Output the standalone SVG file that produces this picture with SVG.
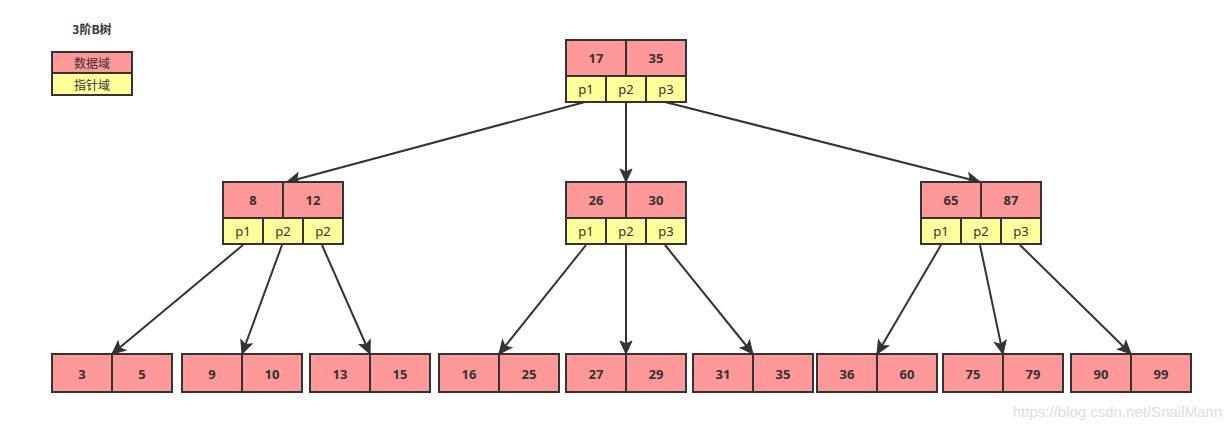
<svg xmlns="http://www.w3.org/2000/svg" width="1231" height="432" viewBox="0 0 1231 432">
<style>
.bg{fill:#ffffff}
.d{fill:#ff9999;stroke:#333333;stroke-width:2}
.p{fill:#ffff99;stroke:#333333;stroke-width:2}
.n{font-family:"Noto Sans","Open Sans","Liberation Sans",sans-serif;font-size:13px;font-weight:bold;fill:#333333;text-anchor:middle;dominant-baseline:central}
.t{font-family:"Noto Sans","Open Sans","Liberation Sans",sans-serif;font-size:13px;fill:#333333;text-anchor:middle;dominant-baseline:central}
.c{font-family:"Noto Sans CJK SC",sans-serif;font-size:12px;fill:#333333;text-anchor:middle;dominant-baseline:central}
.e{stroke:#333333;stroke-width:2;fill:none;marker-end:url(#ah)}
.w{font-family:"Liberation Sans",Arial,sans-serif;font-size:15px;fill:#dddddd;text-anchor:end}
</style>
<defs>
<marker id="ah" viewBox="-14 -7 16 14" refX="0" refY="0" markerWidth="16" markerHeight="14" markerUnits="userSpaceOnUse" orient="auto" overflow="visible">
<path d="M-13,-6 L0,0 L-13,6 L-10,0 Z" fill="#333333" stroke="#333333" stroke-width="1" stroke-linejoin="miter"/>
</marker>
</defs>
<rect class="bg" x="0" y="0" width="1231" height="432"/>
<g id="legend">
<text x="92" y="28" class="c" font-weight="bold">3阶B树</text>
<rect class="d" x="52" y="52" width="80" height="21"/>
<text x="92" y="62.5" class="c">数据域</text>
<rect class="p" x="52" y="73" width="80" height="22"/>
<text x="92" y="84" class="c">指针域</text>
</g>
<g id="edges">
<line class="e" x1="585" y1="102" x2="287" y2="182"/>
<line class="e" x1="626" y1="102" x2="626" y2="182"/>
<line class="e" x1="665" y1="102" x2="980" y2="182"/>
<line class="e" x1="243" y1="245" x2="112" y2="354"/>
<line class="e" x1="282" y1="245" x2="242" y2="354"/>
<line class="e" x1="322" y1="245" x2="370" y2="354"/>
<line class="e" x1="586" y1="245" x2="499" y2="354"/>
<line class="e" x1="626" y1="245" x2="626" y2="354"/>
<line class="e" x1="665" y1="245" x2="753" y2="354"/>
<line class="e" x1="941" y1="245" x2="877" y2="354"/>
<line class="e" x1="980" y1="245" x2="1003" y2="354"/>
<line class="e" x1="1020" y1="245" x2="1131" y2="354"/>
</g>
<g id="root">
<rect class="d" x="566" y="40" width="60" height="36"/><rect class="d" x="626" y="40" width="60" height="36"/>
<text class="n" x="596" y="58">17</text><text class="n" x="656" y="58">35</text>
<rect class="p" x="566" y="76" width="40" height="26"/><rect class="p" x="606" y="76" width="40" height="26"/><rect class="p" x="646" y="76" width="40" height="26"/>
<text class="t" x="586" y="89">p1</text><text class="t" x="626" y="89">p2</text><text class="t" x="666" y="89">p3</text>
</g>
<g id="mid-left">
<rect class="d" x="223" y="182" width="60" height="36"/><rect class="d" x="283" y="182" width="60" height="36"/>
<text class="n" x="253" y="200">8</text><text class="n" x="313" y="200">12</text>
<rect class="p" x="223" y="218" width="40" height="26"/><rect class="p" x="263" y="218" width="40" height="26"/><rect class="p" x="303" y="218" width="40" height="26"/>
<text class="t" x="243" y="231">p1</text><text class="t" x="283" y="231">p2</text><text class="t" x="323" y="231">p2</text>
</g>
<g id="mid-center">
<rect class="d" x="566" y="182" width="60" height="36"/><rect class="d" x="626" y="182" width="60" height="36"/>
<text class="n" x="596" y="200">26</text><text class="n" x="656" y="200">30</text>
<rect class="p" x="566" y="218" width="40" height="26"/><rect class="p" x="606" y="218" width="40" height="26"/><rect class="p" x="646" y="218" width="40" height="26"/>
<text class="t" x="586" y="231">p1</text><text class="t" x="626" y="231">p2</text><text class="t" x="666" y="231">p3</text>
</g>
<g id="mid-right">
<rect class="d" x="921" y="182" width="60" height="36"/><rect class="d" x="981" y="182" width="60" height="36"/>
<text class="n" x="951" y="200">65</text><text class="n" x="1011" y="200">87</text>
<rect class="p" x="921" y="218" width="40" height="26"/><rect class="p" x="961" y="218" width="40" height="26"/><rect class="p" x="1001" y="218" width="40" height="26"/>
<text class="t" x="941" y="231">p1</text><text class="t" x="981" y="231">p2</text><text class="t" x="1021" y="231">p3</text>
</g>
<g id="leaf1"><rect class="d" x="52" y="354" width="60" height="38"/><rect class="d" x="112" y="354" width="60" height="38"/><text class="n" x="82" y="374">3</text><text class="n" x="142" y="374">5</text></g>
<g id="leaf2"><rect class="d" x="182" y="354" width="60" height="38"/><rect class="d" x="242" y="354" width="60" height="38"/><text class="n" x="212" y="374">9</text><text class="n" x="272" y="374">10</text></g>
<g id="leaf3"><rect class="d" x="310" y="354" width="60" height="38"/><rect class="d" x="370" y="354" width="60" height="38"/><text class="n" x="340" y="374">13</text><text class="n" x="400" y="374">15</text></g>
<g id="leaf4"><rect class="d" x="439" y="354" width="60" height="38"/><rect class="d" x="499" y="354" width="60" height="38"/><text class="n" x="469" y="374">16</text><text class="n" x="529" y="374">25</text></g>
<g id="leaf5"><rect class="d" x="566" y="354" width="60" height="38"/><rect class="d" x="626" y="354" width="60" height="38"/><text class="n" x="596" y="374">27</text><text class="n" x="656" y="374">29</text></g>
<g id="leaf6"><rect class="d" x="693" y="354" width="60" height="38"/><rect class="d" x="753" y="354" width="60" height="38"/><text class="n" x="723" y="374">31</text><text class="n" x="783" y="374">35</text></g>
<g id="leaf7"><rect class="d" x="817" y="354" width="60" height="38"/><rect class="d" x="877" y="354" width="60" height="38"/><text class="n" x="847" y="374">36</text><text class="n" x="907" y="374">60</text></g>
<g id="leaf8"><rect class="d" x="943" y="354" width="60" height="38"/><rect class="d" x="1003" y="354" width="60" height="38"/><text class="n" x="973" y="374">75</text><text class="n" x="1033" y="374">79</text></g>
<g id="leaf9"><rect class="d" x="1071" y="354" width="60" height="38"/><rect class="d" x="1131" y="354" width="60" height="38"/><text class="n" x="1101" y="374">90</text><text class="n" x="1161" y="374">99</text></g>
<text class="w" x="1222" y="417">https://blog.csdn.net/SnailMann</text>
</svg>
